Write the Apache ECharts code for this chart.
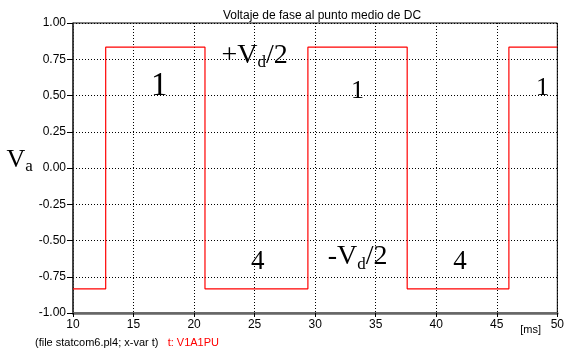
<!DOCTYPE html>
<html>
<head>
<meta charset="utf-8">
<script src="https://cdn.jsdelivr.net/npm/echarts@6/dist/echarts.min.js"></script>
<style>
  html, body { margin: 0; padding: 0; background: #fff; }
  #chart { width: 567px; height: 356px; }
</style>
</head>
<body>
<div id="chart"></div>
<script>
// Phase voltage at the DC midpoint (per unit), time in ms
const timeMs = [10, 12.7, 12.7, 20.9, 20.9, 29.4, 29.4, 37.6, 37.6, 46.0, 46.0, 50];
const v1a1pu = [-0.833, -0.833, 0.833, 0.833, -0.833, -0.833, 0.833, 0.833, -0.833, -0.833, 0.833, 0.833];

const xTickStep = 5;
const yTickStep = 0.25;

// Switch-state and level annotations, placed in data space
const notes = [
  { text: '{b|1}', at: [17.13, 0.56] },
  { text: '{m|+V}{s|d}{m|/2}', at: [25.0, 0.77] },
  { text: '{n|1}', at: [33.5, 0.53] },
  { text: '{n|1}', at: [48.77, 0.55] },
  { text: '{f|4}', at: [25.25, -0.645] },
  { text: '{m|-V}{s|d}{m|/2}', at: [33.5, -0.62] },
  { text: '{f|4}', at: [41.97, -0.645] }
];

const serif = '"Liberation Serif", "DejaVu Serif", serif';
const sans = '"Liberation Sans", Arial, sans-serif';

const richSerif = {
  b: { fontFamily: serif, fontSize: 33, fill: '#000' },
  n: { fontFamily: serif, fontSize: 26, fill: '#000' },
  f: { fontFamily: serif, fontSize: 27, fill: '#000' },
  m: { fontFamily: serif, fontSize: 28, lineHeight: 30, verticalAlign: 'top', fill: '#000' },
  s: { fontFamily: serif, fontSize: 17, lineHeight: 17, padding: [16, 0, 0, 0], verticalAlign: 'bottom', fill: '#000' }
};

const chart = echarts.init(document.getElementById('chart'), null, { renderer: 'canvas' });

chart.setOption({
  animation: false,
  backgroundColor: '#fff',
  title: {
    text: 'Voltaje de fase al punto medio de DC',
    left: 317,
    top: 5,
    textAlign: 'center',
    textStyle: { fontFamily: sans, fontSize: 12, fontWeight: 'normal', color: '#000' }
  },
  grid: {
    left: 73, right: 6, top: 23, bottom: 43,
    show: true, borderColor: '#000', borderWidth: 1, backgroundColor: 'transparent'
  },
  xAxis: {
    type: 'value',
    min: 10, max: 50, interval: xTickStep,
    axisLine: { show: true, onZero: false, lineStyle: { color: '#666', width: 2.5 } },
    axisTick: { show: true, length: 4, lineStyle: { color: '#000', width: 1 } },
    axisLabel: { margin: 6, fontFamily: sans, fontSize: 12, color: '#000' },
    splitLine: { show: true, lineStyle: { color: '#000', width: 1, type: [1, 2] } }
  },
  yAxis: {
    type: 'value',
    min: -1, max: 1, interval: yTickStep,
    name: '{v|V}{a|a}',
    nameLocation: 'middle',
    nameRotate: 0,
    nameGap: 38,
    nameTextStyle: {
      align: 'right',
      padding: [0, 0, 14, 0],
      rich: {
        v: { fontFamily: serif, fontSize: 26, lineHeight: 28, verticalAlign: 'top', color: '#000' },
        a: { fontFamily: serif, fontSize: 17, lineHeight: 17, padding: [10, 0, 0, 0], verticalAlign: 'bottom', color: '#000' }
      }
    },
    axisLine: { show: true, onZero: false, lineStyle: { color: '#333', width: 1.5 } },
    axisTick: { show: true, length: 6, lineStyle: { color: '#000', width: 1 } },
    axisLabel: {
      margin: 7, fontFamily: sans, fontSize: 12, color: '#000',
      formatter: v => v.toFixed(2)
    },
    splitLine: { show: true, lineStyle: { color: '#000', width: 1, type: [1, 2] } }
  },
  series: [{
    name: 't: V1A1PU',
    type: 'line',
    data: timeMs.map((t, i) => [t, v1a1pu[i]]),
    showSymbol: false,
    symbol: 'none',
    lineStyle: { color: '#ff0000', width: 1.2 },
    z: 3
  }]
});

function placeNotes() {
  const els = notes.map(n => {
    const p = chart.convertToPixel({ gridIndex: 0 }, n.at);
    return {
      type: 'text',
      x: p[0], y: p[1],
      z: 10,
      style: { text: n.text, rich: richSerif, align: 'center', verticalAlign: 'middle' }
    };
  });
  const unit = chart.convertToPixel({ gridIndex: 0 }, [47.8, -1]);
  els.push({
    type: 'text', x: unit[0], y: unit[1] + 17, z: 10,
    style: { text: '[ms]', fontFamily: sans, fontSize: 11, fill: '#000', align: 'center', verticalAlign: 'middle' }
  });
  els.push({
    type: 'text', x: 35, y: 343, z: 10,
    style: {
      text: '{k|(file statcom6.pl4; x-var t)}   {r|t: V1A1PU}',
      fontFamily: sans, fontSize: 11,
      verticalAlign: 'middle',
      rich: {
        k: { fontFamily: sans, fontSize: 11, fill: '#000' },
        r: { fontFamily: sans, fontSize: 11, fill: '#ff0000' }
      }
    }
  });
  chart.setOption({ graphic: els });
}
placeNotes();
</script>
</body>
</html>
